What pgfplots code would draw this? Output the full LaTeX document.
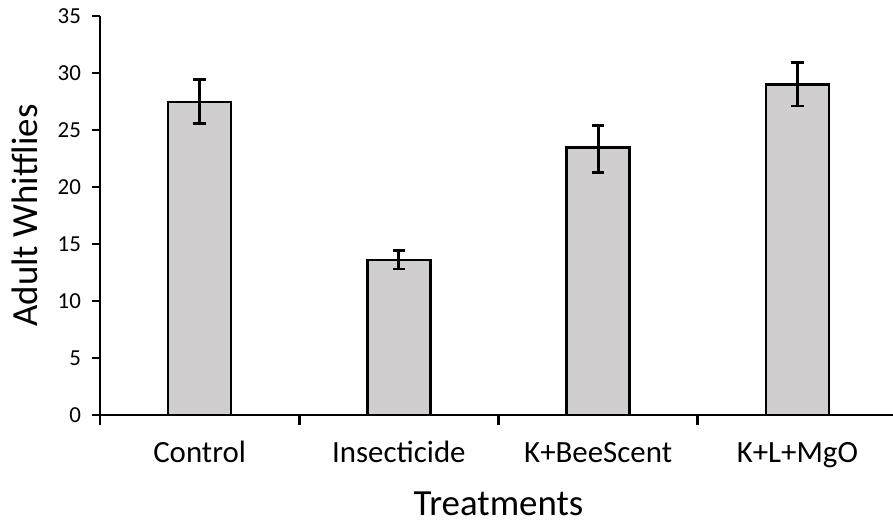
\documentclass[border=0pt]{standalone}
\usepackage{pgfplots}
\pgfplotsset{compat=1.18}
\usepackage{fontspec}
\setmainfont{Carlito}
\definecolor{barfill}{RGB}{208,206,206}
\begin{document}
\begin{tikzpicture}[x=1bp,y=1bp]
\begin{axis}[
  scale only axis, width=797bp, height=399bp,
  xmin=-0.5, xmax=3.5, ymin=0, ymax=35,
  axis x line=bottom, axis y line=left,
  axis line style={-, line width=2.8bp, black},
  ybar,
  xtick={0,1,2,3},
  xticklabels={Control,Insecticide,K+BeeScent,K+L+MgO},
  major x tick style={draw=none},
  minor xtick={-0.5,0.5,1.5,2.5,3.5},
  minor x tick style={line width=2.8bp, black},
  ytick={0,5,...,35},
  yticklabels={0,5,10,15,20,25,30,35},
  y tick style={line width=2.8bp, black},
  tick align=outside,
  major tick length=7.5bp, minor tick length=10bp,
  yticklabel style={font=\fontsize{23}{27}\selectfont, anchor=east, xshift=-8bp},
  x tick label style={font=\fontsize{31}{36}\selectfont, anchor=base, yshift=-40bp},
  ylabel={Adult Whitflies},
  ylabel style={font=\fontsize{37}{42}\selectfont, at={(axis description cs:-0.079,0.5)}, anchor=base},
  xlabel={Treatments},
  xlabel style={font=\fontsize{37}{42}\selectfont, at={(axis description cs:0.5,0)}, anchor=base, yshift=-101bp},
  clip=false,
]
\addplot[ybar, bar width=0.316, fill=barfill, draw=black, line width=2.6bp,
  error bars/.cd, y dir=both, y explicit,
  error bar style={line width=2.8bp, black},
  error mark options={rotate=90, mark size=6.2bp, line width=2.8bp, black}]
  table[x=x, y=y, y error plus=ep, y error minus=em] {
x y ep em
0 27.45 1.95 1.85
1 13.6 0.8 0.8
2 23.45 1.95 2.15
3 29.0 1.9 1.9
};
\end{axis}
\pgfresetboundingbox
\useasboundingbox (-100,-110) rectangle (793,415);
\end{tikzpicture}
\end{document}
